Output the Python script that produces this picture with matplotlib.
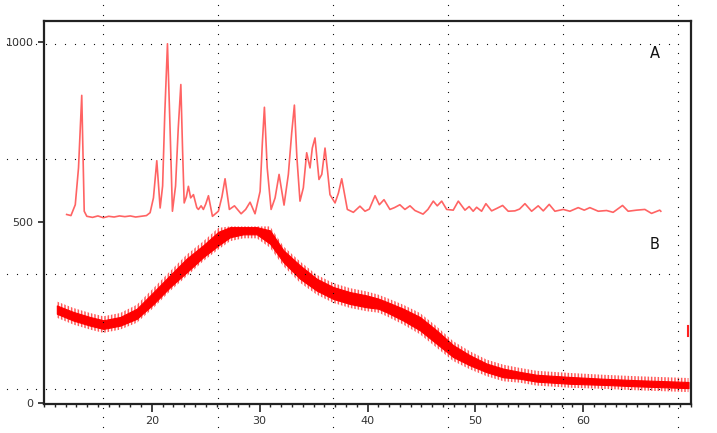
import matplotlib
matplotlib.use("Agg")
import matplotlib.pyplot as plt
from matplotlib.ticker import MultipleLocator
import numpy as np

# ---- data ----
A_x = [12.1, 12.5, 12.9, 13.2, 13.5, 13.73, 13.97, 14.5, 15.0, 15.5, 16.0, 16.5, 17.0, 17.5,
       18.0, 18.5, 19.0, 19.5, 19.84, 20.15, 20.46, 20.77, 21.0, 21.2, 21.45, 21.7, 21.91,
       22.2, 22.45, 22.69, 22.85, 23.0, 23.2, 23.39, 23.6, 23.86, 24.17, 24.32, 24.57, 24.78,
       25.0, 25.25, 25.62, 26.17, 26.5, 26.79, 27.19, 27.66, 28.28, 28.7, 29.11, 29.57, 30.04,
       30.25, 30.44, 30.7, 31.06, 31.43, 31.8, 32.26, 32.66, 32.97, 33.22, 33.45, 33.74, 34.05,
       34.36, 34.67, 34.88, 35.13, 35.5, 35.76, 36.06, 36.3, 36.52, 36.99, 37.3, 37.61, 37.85,
       38.13, 38.69, 39.3, 39.77, 40.17, 40.7, 41.1, 41.53, 42.08, 42.5, 43.0, 43.47, 43.94,
       44.4, 45.15, 45.6, 46.1, 46.47, 46.88, 47.34, 47.95, 48.42, 49.04, 49.43, 49.8, 50.12,
       50.58, 50.98, 51.51, 52.0, 52.53, 53.05, 53.67, 54.1, 54.6, 55.22, 55.83, 56.3, 56.85,
       57.38, 58.15, 58.77, 59.54, 60.1, 60.62, 61.4, 62.17, 62.78, 63.65, 64.17, 64.95, 65.72,
       66.34, 67.1, 67.2]
A_y = [521, 518, 548, 650, 851, 530, 516, 513, 517, 512, 516, 514, 517, 515,
       517, 514, 516, 518, 526, 567, 670, 539, 600, 800, 994, 750, 530,
       600, 760, 881, 700, 553, 570, 599, 567, 576, 540, 535, 545, 535,
       550, 573, 516, 530, 570, 620, 535, 545, 523, 535, 555, 523, 585,
       720, 818, 650, 535, 567, 632, 547, 632, 747, 824, 680, 558, 595,
       692, 650, 705, 733, 618, 632, 705, 640, 576, 553, 580, 620, 580,
       535, 527, 544, 530, 536, 573, 548, 562, 535, 540, 548, 535, 545,
       532, 522, 535, 558, 545, 558, 535, 533, 558, 533, 543, 530, 541,
       530, 551, 531, 538, 546, 530, 531, 536, 551, 530, 545, 531, 549,
       530, 535, 530, 540, 533, 540, 530, 532, 527, 546, 530, 533, 535,
       524, 533, 530]

B_x = [11.19, 12.73, 14.28, 15.51, 17.06, 18.61, 20.15, 21.7, 23.24, 24.78, 26.17, 27.26,
       28.49, 29.73, 30.96, 32.2, 33.74, 35.29, 36.83, 38.38, 39.9, 41.0, 41.78, 43.32,
       44.87, 46.41, 47.95, 49.5, 51.05, 52.59, 54.13, 55.68, 58.77, 61.86, 64.95, 69.77]
B_low = [244, 225, 211, 202, 211, 230, 271, 318, 359, 401, 433, 456,
         464, 464, 438, 387, 341, 308, 285, 271, 262, 258, 248, 225,
         198, 161, 124, 101, 82, 68, 64, 56, 50, 47, 43, 38]
B_high = [271, 253, 239, 230, 239, 262, 308, 355, 401, 438, 475, 488,
          488, 488, 479, 424, 382, 345, 322, 308, 299, 290, 281, 262,
          239, 202, 161, 133, 110, 96, 87, 79, 73, 68, 64, 59]
B_clip = 488

x_ticks = [20, 30, 40, 50, 60]
y_ticks = [0, 500, 1000]
labels = ["A", "B"]
label_pos = [(66.65, 967), (66.65, 438)]

plt.rcParams["hatch.linewidth"] = 1.1

W, H = 717, 433
fig = plt.figure(figsize=(W / 100, H / 100), dpi=100)
fig.patch.set_facecolor("white")

ax = fig.add_axes([44 / W, 1 - 404 / H, (691 - 44) / W, (404 - 21) / H])
ax.set_xlim(10, 70)
ax.set_ylim(-4, 1057)

# B: noisy amorphous hump, drawn as its band (solid body + spiky fringe)
lo = np.array(B_low, dtype=float)
hi = np.array(B_high, dtype=float)
ax.fill_between(B_x, np.maximum(lo - 9, 0), np.minimum(hi + 9, B_clip),
                facecolor="none", edgecolor="#ff3030", hatch="|||||", lw=0, alpha=0.8)
ax.fill_between(B_x, lo + 2, np.minimum(hi - 2, B_clip), color="#ff0000", lw=0.8,
                edgecolor="#ff0000")

# A: crystalline pattern
ax.plot(A_x, A_y, color="#ff4848", lw=1.2, alpha=0.85, solid_joinstyle="round")

# small red mark at right edge
ax.plot([69.75, 69.75], [185, 211], color="#ff2020", lw=1.5, clip_on=False)

for t, (lx, ly) in zip(labels, label_pos):
    ax.text(lx, ly, t, fontsize=10.5, color="#111111", ha="center", va="center",
            family="DejaVu Sans")

ax.set_xticks(x_ticks)
ax.xaxis.set_minor_locator(MultipleLocator(1))
ax.set_yticks(y_ticks)
ax.tick_params(axis="x", which="major", direction="out", length=6, width=1.2,
               color="#222222", labelsize=8, labelcolor="#333333", pad=3)
ax.tick_params(axis="x", which="minor", direction="out", length=2.5, width=1.0,
               color="#222222")
ax.tick_params(axis="y", which="major", direction="out", length=4.5, width=1.2,
               color="#222222", labelsize=8, labelcolor="#333333", pad=3)
for s in ax.spines.values():
    s.set_linewidth(1.6)
    s.set_color("#222222")

# dotted background grid of the viewer (figure pixels)
ov = fig.add_axes([0, 0, 1, 1], zorder=10)
ov.set_xlim(0, W)
ov.set_ylim(H, 0)
ov.axis("off")
ov.patch.set_alpha(0)
step = 115.0
dot = step / 12
gx = 103.3 + step * np.arange(-1, 6)
gy = 43.7 + step * np.arange(-1, 4)
xs_d = 103.3 + dot * np.arange(-12, 60)
ys_d = 43.7 + dot * np.arange(-6, 48)
xs_d = xs_d[(xs_d >= 0) & (xs_d <= W)]
ys_d = ys_d[(ys_d >= 0) & (ys_d <= H)]
px, py = [], []
for yv in gy:
    if 0 <= yv <= H:
        px.extend(xs_d); py.extend([yv] * len(xs_d))
for xv in gx:
    if 0 <= xv <= W:
        px.extend([xv] * len(ys_d)); py.extend(ys_d)
ov.plot(px, py, ls="none", marker="s", ms=0.8, mew=0, color="#111111")

fig.savefig("out.png", dpi=100)
